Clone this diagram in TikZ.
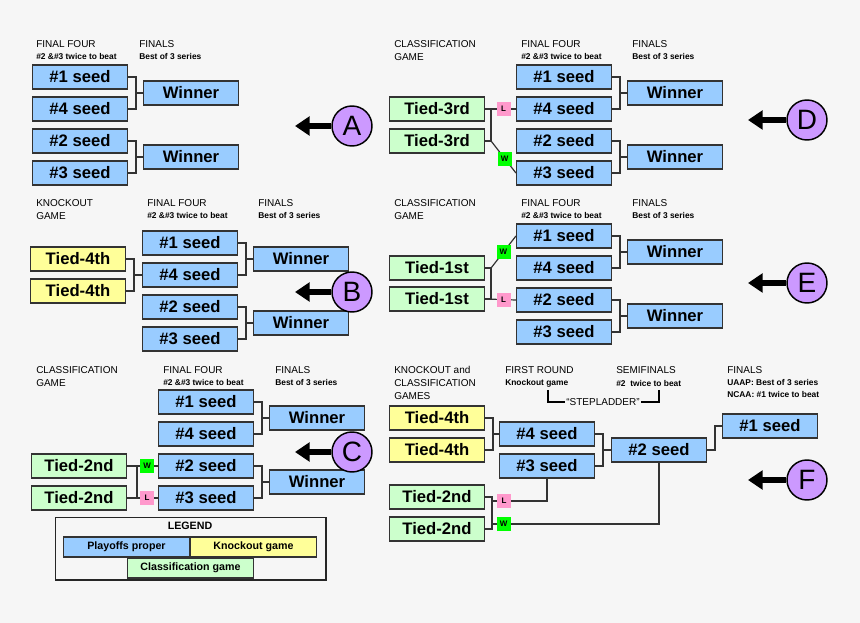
\documentclass[tikz,border=0pt]{standalone}
\usepackage{fontspec}
\setmainfont{Liberation Sans}
\usepackage{tikz}
\usetikzlibrary{arrows.meta,calc}
\definecolor{seedblue}{HTML}{99CCFF}
\definecolor{koyellow}{HTML}{FFFF99}
\definecolor{clgreen}{HTML}{CCFFCC}
\definecolor{lpink}{HTML}{FF99CC}
\definecolor{wgreen}{HTML}{00FF00}
\definecolor{lettercirc}{HTML}{CC99FF}
\definecolor{bggray}{HTML}{F6F6F6}
\tikzset{
  box/.style={draw=black!80, line width=1.1pt, minimum width=71pt, minimum height=18pt,
    inner sep=0pt, font=\fontsize{12.5}{12.5}\selectfont\bfseries},
  seed/.style={box, fill=seedblue},
  ko/.style={box, fill=koyellow},
  cl/.style={box, fill=clgreen},
  ltag/.style={fill=lpink, minimum size=10.5pt, inner sep=0pt, font=\fontsize{6}{6}\selectfont\bfseries},
  wtag/.style={ltag, fill=wgreen},
  hd/.style={anchor=west, inner sep=0pt, font=\fontsize{7.5}{7.5}\selectfont},
  sub/.style={anchor=west, inner sep=0pt, font=\fontsize{6.3}{6.3}\selectfont\bfseries},
  letter/.style={circle, draw=black, line width=1.1pt, fill=lettercirc, minimum size=30pt,
    inner sep=0pt, font=\fontsize{21}{21}\selectfont},
  bigarrow/.style={line width=4pt, -{Triangle[length=11pt,width=14pt]}},
  link/.style={line width=0.9pt, draw=black!80},
  leg/.style={draw=black!80, line width=0.8pt, minimum width=95pt, minimum height=15pt,
    inner sep=0pt, font=\fontsize{8}{8}\selectfont\bfseries}
}
\begin{document}
\begin{tikzpicture}[x=0.75pt,y=-0.75pt]
\fill[bggray] (0,0) rectangle (860,623);
\useasboundingbox (0,0) rectangle (860,623);

% final four brackets
\foreach \p/\sx/\sy in {A/80/77, B/190/243, C/206/402, D/564/77, E/564/236} {
  \node[seed] (\p1) at (\sx,\sy) {\#1 seed};
  \node[seed] (\p4) at (\sx,\sy+32) {\#4 seed};
  \node[seed] (\p2) at (\sx,\sy+64) {\#2 seed};
  \node[seed] (\p3) at (\sx,\sy+96) {\#3 seed};
  \node[seed] (\p W1) at (\sx+111,\sy+16) {Winner};
  \node[seed] (\p W2) at (\sx+111,\sy+80) {Winner};
  \draw[link] (\p1.east) -- ++(8,0) |- (\p W1.west);
  \draw[link] (\p4.east) -- ++(8,0) |- (\p W1.west);
  \draw[link] (\p2.east) -- ++(8,0) |- (\p W2.west);
  \draw[link] (\p3.east) -- ++(8,0) |- (\p W2.west);
}

% headers
\node[hd] at (36,44) {FINAL FOUR};
\node[sub] at (36,57) {\#2 \&\#3 twice to beat};
\node[hd] at (139,44) {FINALS};
\node[sub] at (139,57) {Best of 3 series};
\node[hd] at (36,203) {KNOCKOUT};
\node[hd] at (36,216) {GAME};
\node[hd] at (147,203) {FINAL FOUR};
\node[sub] at (147,216) {\#2 \&\#3 twice to beat};
\node[hd] at (258,203) {FINALS};
\node[sub] at (258,216) {Best of 3 series};
\node[hd] at (36,370) {CLASSIFICATION};
\node[hd] at (36,383) {GAME};
\node[hd] at (163,370) {FINAL FOUR};
\node[sub] at (163,383) {\#2 \&\#3 twice to beat};
\node[hd] at (275,370) {FINALS};
\node[sub] at (275,383) {Best of 3 series};
\foreach \hy in {44,203} {
  \node[hd] at (394,\hy) {CLASSIFICATION};
  \node[hd] at (394,\hy+13) {GAME};
  \node[hd] at (521,\hy) {FINAL FOUR};
  \node[sub] at (521,\hy+13) {\#2 \&\#3 twice to beat};
  \node[hd] at (632,\hy) {FINALS};
  \node[sub] at (632,\hy+13) {Best of 3 series};
}
\node[hd] at (394,370) {KNOCKOUT and};
\node[hd] at (394,383) {CLASSIFICATION};
\node[hd] at (394,396) {GAMES};
\node[hd] at (505,370) {FIRST ROUND};
\node[sub] at (505,383) {Knockout game};
\node[hd] at (616,370) {SEMIFINALS};
\node[sub] at (616,383) {\#2~~twice to beat};
\node[hd] at (727,370) {FINALS};
\node[sub] at (727,383) {UAAP: Best of 3 series};
\node[sub] at (727,394) {NCAA: \#1 twice to beat};

% B: knockout game
\node[ko] (Bt1) at (78,259) {Tied-4th};
\node[ko] (Bt2) at (78,291) {Tied-4th};
\draw[link] (Bt1.east) -- ++(8,0) |- (B4.west);
\draw[link] (Bt2.east) -- ++(8,0) |- (B4.west);

% C: classification game
\node[cl] (Ct1) at (79,466) {Tied-2nd};
\node[cl] (Ct2) at (79,498) {Tied-2nd};
\draw[link] (Ct1.east) -- ++(10,0) |- (Ct2.east);
\draw[link] (Ct1.east) -- node[wtag, pos=.65] {W} (C2.west);
\draw[link] (Ct2.east) -- node[ltag, pos=.65] {L} (C3.west);

% D: classification game
\node[cl] (Dt1) at (437,109) {Tied-3rd};
\node[cl] (Dt2) at (437,141) {Tied-3rd};
\draw[link] (Dt1.east) -- ++(6,0) |- (Dt2.east);
\draw[link] (Dt1.east) -- node[ltag, pos=.6] {L} (D4.west);
\draw[link] ($(Dt2.east)+(6,0)$) -- node[wtag, pos=.55] {W} (D3.west);

% E: classification game
\node[cl] (Et1) at (437,268) {Tied-1st};
\node[cl] (Et2) at (437,299) {Tied-1st};
\draw[link] (Et1.east) -- ++(6,0) |- (Et2.east);
\draw[link] ($(Et1.east)+(6,0)$) -- node[wtag, pos=.5] {W} (E1.west);
\draw[link] (Et2.east) -- node[ltag, pos=.6] {L} (E2.west);

% F: stepladder
\node[ko] (Ft1) at (437,418) {Tied-4th};
\node[ko] (Ft2) at (437,450) {Tied-4th};
\node[seed] (F4) at (547,434) {\#4 seed};
\node[seed] (F3) at (547,466) {\#3 seed};
\node[seed] (F2) at (659,450) {\#2 seed};
\node[seed] (F1) at (770,426) {\#1 seed};
\node[cl] (Fc1) at (437,497) {Tied-2nd};
\node[cl] (Fc2) at (437,529) {Tied-2nd};
\draw[link] (Ft1.east) -- ++(8,0) |- (F4.west);
\draw[link] (Ft2.east) -- ++(8,0) |- (F4.west);
\draw[link] (F4.east) -- ++(8,0) |- (F2.west);
\draw[link] (F3.east) -- ++(8,0) |- (F2.west);
\draw[link] (F2.east) -- ++(8,0) |- (F1.west);
\draw[link] (Fc1.east) -- ++(7,0) |- (Fc2.east);
\coordinate (FjL) at (492,501);
\coordinate (FjW) at (492,524);
\draw[link] (FjL) -- node[ltag, pos=.22] {L} (FjL -| F3.south) -- (F3.south);
\draw[link] (FjW) -- node[wtag, pos=.07] {W} (FjW -| F2.south) -- (F2.south);
\node[inner sep=1pt, font=\fontsize{7.5}{7.5}\selectfont] (Fstep) at (603,402) {“STEPLADDER”};
\coordinate (Fsl) at (548,390);
\coordinate (Fsr) at (659,390);
\draw[line width=0.8pt] (Fsl) |- (Fstep.west);
\draw[line width=0.8pt] (Fsr) |- (Fstep.east);

% letters
\foreach \l/\cx/\cy/\tx in {A/352/126/295, B/352/292/295, C/352/452/295, D/807/120/748, E/807/283/748, F/807/480/748} {
  \coordinate (\l tip) at (\tx,\cy);
  \node[letter] (\l c) at (\cx,\cy) {\l};
  \draw[bigarrow] (\l c.west) -- (\l tip);
}

% legend
\node[draw=black!85, line width=1pt, minimum width=203pt, minimum height=47pt, inner sep=0pt] (legend) at (190.5,548.5) {};
\node[font=\fontsize{8}{8}\selectfont\bfseries] (legtitle) at (190,526) {LEGEND};
\node[leg, fill=seedblue] (legp) at (126.5,547) {Playoffs proper};
\node[leg, fill=koyellow] (legk) at (253.5,547) {Knockout game};
\node[leg, fill=clgreen] (legc) at (190.5,568) {Classification game};
\end{tikzpicture}
\end{document}
